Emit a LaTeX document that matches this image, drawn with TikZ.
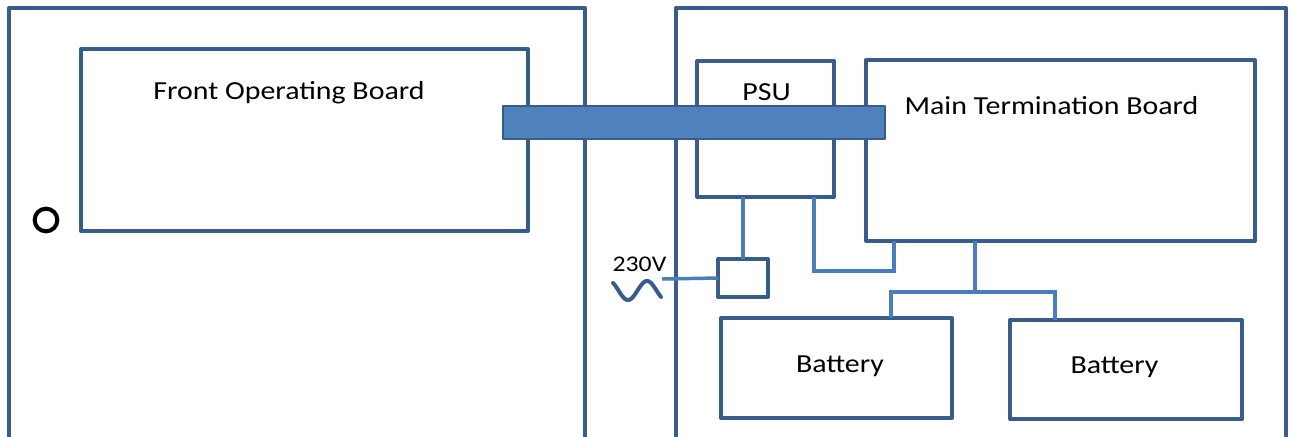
\documentclass[tikz,border=0pt]{standalone}
\usepackage{fontspec}
\setmainfont{Carlito}[FakeStretch=1.15]
\definecolor{outl}{HTML}{385D8A}
\definecolor{conn}{HTML}{4A7EBB}
\definecolor{busf}{HTML}{4F81BD}
\begin{document}
\begin{tikzpicture}[x=0.75pt,y=-0.75pt,
  box/.style={draw=outl,line width=3pt,rectangle,inner sep=0pt,outer sep=0pt,line join=round},
  wire/.style={draw=conn,line width=2.6pt},
  lbl/.style={font=\fontsize{19.5pt}{23pt}\selectfont,anchor=base,inner sep=0pt,text=black}]
\useasboundingbox (0,0) rectangle (1291,436);
% enclosures
\draw[box] (9,437) -- (9,8) -- (585,8) -- (585,437);
\draw[box] (676,437) -- (676,8) -- (1286,8) -- (1286,437);
% boards
\node[box,minimum width=335.25pt,minimum height=136.5pt] (fob) at (304.5,140) {};
\node[box,minimum width=102.75pt,minimum height=102pt] (psu) at (765.5,129) {};
\node[box,minimum width=291.75pt,minimum height=135.75pt] (mtb) at (1060.5,150.5) {};
\node[box,minimum width=37.5pt,minimum height=28.5pt] (acbox) at (743,278) {};
\node[box,minimum width=173.25pt,minimum height=75pt] (bat1) at (836.5,368) {};
\node[box,minimum width=174pt,minimum height=74.25pt] (bat2) at (1126,369.5) {};
% labels
\node[lbl] (fobt) at (289,99) {Front Operating Board};
\node[lbl] (psut) at (766.5,100) {PSU};
\node[lbl] (mtbt) at (1051.5,114) {Main Termination Board};
\node[lbl] (bat1t) at (840,372.5) {Battery};
\node[lbl] (bat2t) at (1114.5,373) {Battery};
\node[lbl,font=\fontsize{16.8pt}{20pt}\selectfont] (acv) at (639.5,271) {230V};
% knob
\node[circle,draw=black,line width=3pt,minimum size=17pt,inner sep=0pt] (knob) at (46,220) {};
% AC wave
\draw[draw=outl,line width=3pt,line cap=round] plot[domain=613:661,samples=40,smooth] (\x,{290.5-9.5*cos(360*(\x-647)/38)});
% connectors
\coordinate (acin) at (662,279);
\coordinate (t1) at (814,271);
\coordinate (t2) at (894,271);
\coordinate (j) at (975,292);
\coordinate (d1) at (891,292);
\coordinate (d2) at (1055,292);
\draw[wire] (acin) -- (acbox.west);
\draw[wire] (psu.south -| acbox.north) -- (acbox.north);
\draw[wire] (psu.south -| t1) -- (t1) -- (t2) -- (mtb.south -| t2);
\draw[wire] (mtb.south -| j) -- (j);
\draw[wire] (bat1.north -| d1) -- (d1) -- (d2) -- (bat2.north -| d2);
% bus bar
\node[box,fill=busf,line width=2.2pt,minimum width=286.5pt,minimum height=24.75pt] (bus) at (694,122.5) {};
\end{tikzpicture}
\end{document}
